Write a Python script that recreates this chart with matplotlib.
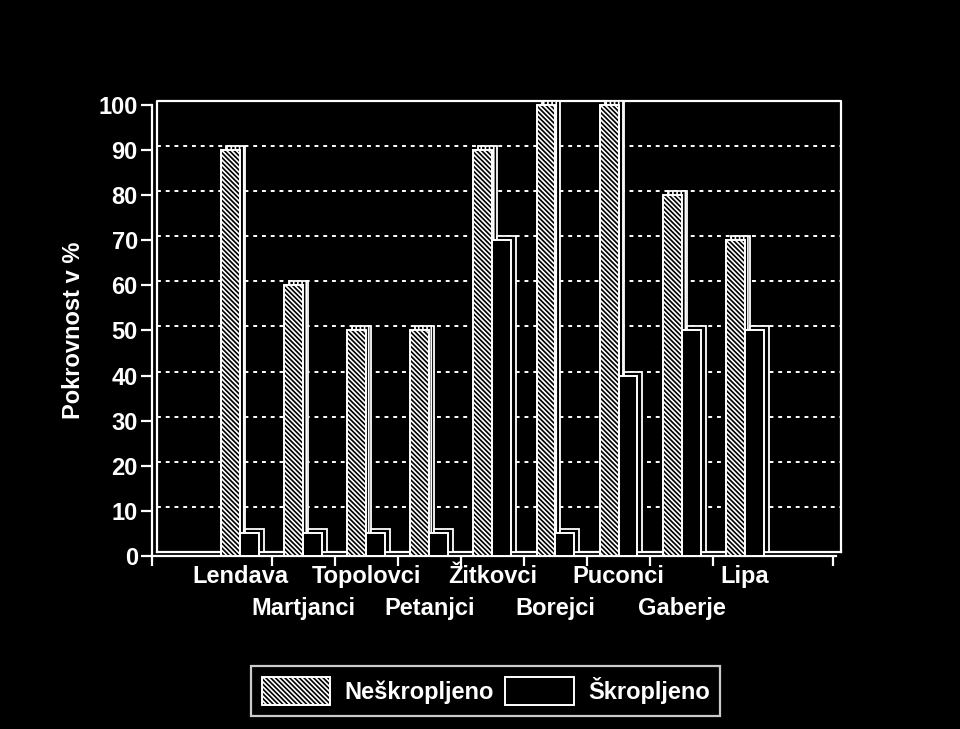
import matplotlib.pyplot as plt
import matplotlib.transforms as mtransforms
import numpy as np

plt.rcParams['font.family'] = ['Liberation Sans', 'DejaVu Sans']
plt.rcParams['font.weight'] = 'bold'
plt.rcParams['axes.labelweight'] = 'bold'
plt.rcParams['hatch.color'] = 'white'
plt.rcParams['hatch.linewidth'] = 1.2

places = ['Lendava', 'Martjanci', 'Topolovci', 'Petanjci', 'Žitkovci',
          'Borejci', 'Puconci', 'Gaberje', 'Lipa']
neskropljeno = [90, 60, 50, 50, 90, 100, 100, 80, 70]
skropljeno = [5, 5, 5, 5, 70, 5, 40, 50, 50]
yticks = [0, 10, 20, 30, 40, 50, 60, 70, 80, 90, 100]

fig = plt.figure(figsize=(9.6, 7.29), dpi=100, facecolor='black')
ax = fig.add_axes([0.158, 0.2375, 0.713, 0.6185])
ax.set_facecolor('black')

x = np.arange(len(places))
w = 0.3
xlo, xhi = -1.4, 9.45
ax.set_xlim(xlo, xhi)
ax.set_ylim(0, 100)

# back wall / depth offset
back = mtransforms.offset_copy(ax.transData, fig, x=5, y=4, units='dots')

for v in yticks[1:]:
    ax.plot([xlo, xhi], [v, v], color='white', lw=1.4, ls=(0, (2, 2.5)),
            transform=back, zorder=1, clip_on=False)
ax.plot([xlo, xlo, xhi, xhi], [0, 100, 100, 0], color='white', lw=1.6,
        transform=back, zorder=1, clip_on=False)
ax.plot([xlo, xhi], [0, 0], color='white', lw=1.6, transform=back,
        zorder=1, clip_on=False)

# bars with a little depth
ax.bar(x - w / 2, neskropljeno, w, color='black', edgecolor='white', lw=1.3,
       transform=back, zorder=2, clip_on=False, hatch='||||')
ax.bar(x + w / 2, skropljeno, w, color='black', edgecolor='white', lw=1.3,
       transform=back, zorder=2, clip_on=False)
ax.bar(x - w / 2, neskropljeno, w, color='black', edgecolor='white', lw=1.4,
       hatch='\\\\\\\\\\\\\\', zorder=3, clip_on=False, label='Neškropljeno')
ax.bar(x + w / 2, skropljeno, w, color='black', edgecolor='white', lw=1.4,
       zorder=3, clip_on=False, label='Škropljeno')

for s in ['top', 'right']:
    ax.spines[s].set_visible(False)
for s in ['left', 'bottom']:
    ax.spines[s].set_color('white')
    ax.spines[s].set_linewidth(1.6)

ax.set_yticks(yticks)
ax.tick_params(axis='y', colors='white', labelsize=17, length=8, width=1.6, pad=2)
ax.set_xticks([xlo] + list(x[:-1] + 0.5) + [9.4])
ax.set_xticklabels([])
ax.tick_params(axis='x', colors='white', length=7, width=1.6)

# staggered category labels
lab = mtransforms.blended_transform_factory(ax.transData, ax.transAxes)
for i, p in enumerate(places):
    dy = -21 if i % 2 == 0 else -53
    t = mtransforms.offset_copy(lab, fig, x=0, y=dy, units='dots')
    ax.text(x[i], 0, p, transform=t, ha='center', va='center',
            color='white', fontsize=17)

ax.set_ylabel('Pokrovnost v %', color='white', fontsize=17, labelpad=10)

leg = fig.legend(loc='center', bbox_to_anchor=(0.506, 0.052), ncol=2,
                 fontsize=17, frameon=True, facecolor='black', edgecolor='white',
                 labelcolor='white', handlelength=2.9, handleheight=1.5,
                 borderpad=0.45, columnspacing=0.5, handletextpad=0.6,
                 fancybox=False)
leg.get_frame().set_linewidth(1.6)

fig.savefig('out.png', dpi=100, facecolor='black')
